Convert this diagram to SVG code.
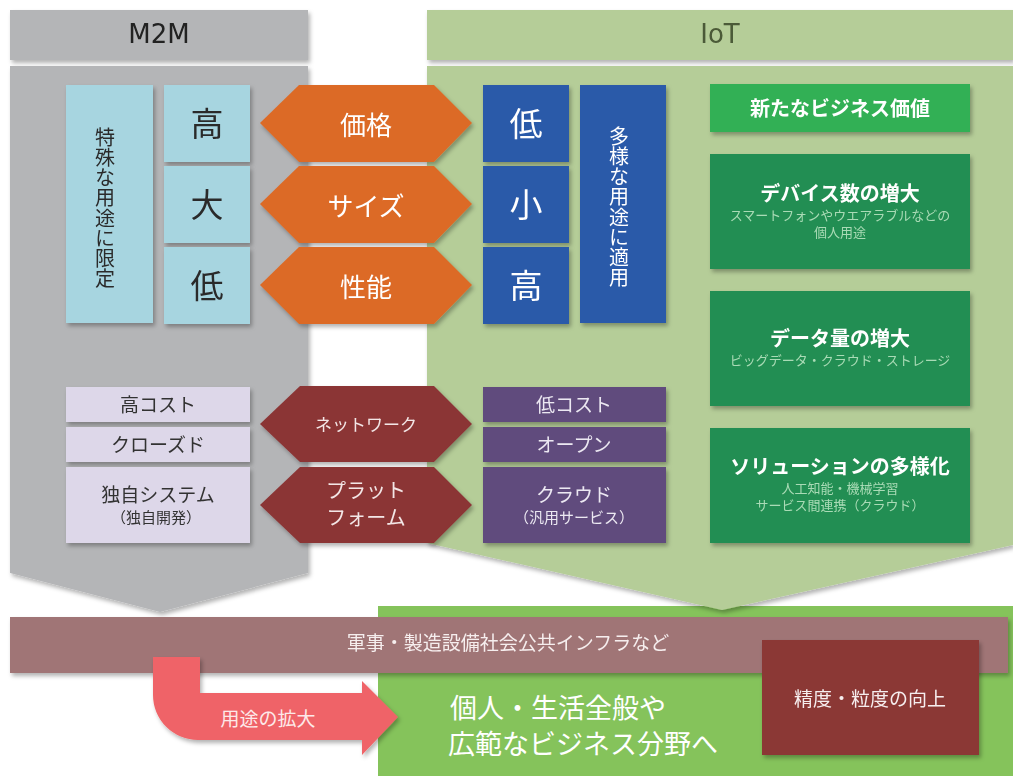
<svg xmlns="http://www.w3.org/2000/svg" width="1013" height="776" viewBox="0 0 1013 776">
<defs>
<filter id="sh" x="-10%" y="-10%" width="125%" height="130%">
<feDropShadow dx="2" dy="3" stdDeviation="2" flood-color="#000" flood-opacity="0.3"/>
</filter>
<style>
text{font-family:"Noto Sans CJK JP","Noto Sans",sans-serif;text-anchor:middle;dominant-baseline:central}
.lat{font-family:"DejaVu Sans","Noto Sans",sans-serif}
.vert{writing-mode:vertical-rl;text-orientation:upright;letter-spacing:0.2px}
.w{fill:#ffffff}
.dk{fill:#2b2b2b}
.gray{fill:#b4b5b7}
.pgreen{fill:#b5cd98}
.lblue{fill:#a7d5e0}
.orange{fill:#dc6a27}
.blue{fill:#2b5aa9}
.bgreen{fill:#33b055}
.dgreen{fill:#238e52}
.lav{fill:#ddd7e9}
.dred{fill:#8b3636}
.purple{fill:#604c7d}
.sub{fill:#a9dbb6;font-size:13px}
.title{fill:#ffffff;font-size:20px;font-weight:bold}
</style>
</defs>

<!-- bottom area -->
<g id="bottom-green">
<rect x="378" y="606" width="635" height="170" fill="#85c35b"/>
<text class="w" x="558" y="706" font-size="27">個人・生活全般や</text>
<text class="w" x="583" y="742" font-size="27">広範なビジネス分野へ</text>
</g>

<!-- M2M column -->
<g id="m2m-header" filter="url(#sh)">
<rect class="gray" x="10" y="10" width="298" height="50"/>
<text class="lat" x="159" y="34" font-size="26" fill="#222">M2M</text>
</g>
<g id="m2m-body">
<polygon class="gray" points="10,66 308,66 308,573 160,612 10,573" filter="url(#sh)"/>
</g>

<!-- IoT column -->
<g id="iot-header" filter="url(#sh)">
<rect class="pgreen" x="427" y="10" width="586" height="50"/>
<text class="lat" x="720" y="34" font-size="26" fill="#4b5a37">IoT</text>
</g>
<g id="iot-body">
<polygon class="pgreen" points="427,66 1013,66 1013,545 722,610 427,543" filter="url(#sh)"/>
</g>

<!-- M2M nodes -->
<g id="m2m-special" filter="url(#sh)">
<rect class="lblue" x="66" y="85" width="87" height="238"/>
<text class="dk vert" x="105" y="208" font-size="20">特殊な用途に限定</text>
</g>
<g id="m2m-high" filter="url(#sh)">
<rect class="lblue" x="164" y="85" width="86" height="77"/>
<text class="dk" x="207" y="122" font-size="33">高</text>
</g>
<g id="m2m-large" filter="url(#sh)">
<rect class="lblue" x="164" y="166" width="86" height="77"/>
<text class="dk" x="207" y="203" font-size="33">大</text>
</g>
<g id="m2m-low" filter="url(#sh)">
<rect class="lblue" x="164" y="247" width="86" height="77"/>
<text class="dk" x="207" y="284" font-size="33">低</text>
</g>

<!-- orange hexagons -->
<g id="hex-price" filter="url(#sh)">
<polygon class="orange" points="260,123 299,85 434,85 472,123 434,162 299,162"/>
<text class="w" x="366" y="123" font-size="26">価格</text>
</g>
<g id="hex-size" filter="url(#sh)">
<polygon class="orange" points="260,204 299,166 434,166 472,204 434,243 299,243"/>
<text class="w" x="366" y="204" font-size="26">サイズ</text>
</g>
<g id="hex-perf" filter="url(#sh)">
<polygon class="orange" points="260,285 299,247 434,247 472,285 434,324 299,324"/>
<text class="w" x="366" y="285" font-size="26">性能</text>
</g>

<!-- IoT blue nodes -->
<g id="iot-low" filter="url(#sh)">
<rect class="blue" x="483" y="85" width="86" height="77"/>
<text class="w" x="526" y="122" font-size="33">低</text>
</g>
<g id="iot-small" filter="url(#sh)">
<rect class="blue" x="483" y="166" width="86" height="77"/>
<text class="w" x="526" y="203" font-size="33">小</text>
</g>
<g id="iot-high" filter="url(#sh)">
<rect class="blue" x="483" y="247" width="86" height="77"/>
<text class="w" x="526" y="284" font-size="33">高</text>
</g>
<g id="iot-various" filter="url(#sh)">
<rect class="blue" x="580" y="85" width="86" height="238"/>
<text class="w vert" x="619" y="207" font-size="20">多様な用途に適用</text>
</g>

<!-- IoT green value boxes -->
<g id="new-value" filter="url(#sh)">
<rect class="bgreen" x="710" y="84" width="260" height="48"/>
<text class="title" x="840" y="107">新たなビジネス価値</text>
</g>
<g id="devices" filter="url(#sh)">
<rect class="dgreen" x="710" y="154" width="260" height="115"/>
<text class="title" x="840" y="192">デバイス数の増大</text>
<text class="sub" x="840" y="214">スマートフォンやウエアラブルなどの</text>
<text class="sub" x="840" y="231">個人用途</text>
</g>
<g id="data" filter="url(#sh)">
<rect class="dgreen" x="710" y="291" width="260" height="115"/>
<text class="title" x="840" y="337">データ量の増大</text>
<text class="sub" x="840" y="359">ビッグデータ・クラウド・ストレージ</text>
</g>
<g id="solutions" filter="url(#sh)">
<rect class="dgreen" x="710" y="428" width="260" height="115"/>
<text class="title" x="840" y="465">ソリューションの多様化</text>
<text class="sub" x="840" y="487">人工知能・機械学習</text>
<text class="sub" x="840" y="504">サービス間連携（クラウド）</text>
</g>

<!-- M2M lavender boxes -->
<g id="m2m-cost" filter="url(#sh)">
<rect class="lav" x="66" y="387" width="184" height="35"/>
<text x="158" y="403" font-size="19" fill="#333">高コスト</text>
</g>
<g id="m2m-closed" filter="url(#sh)">
<rect class="lav" x="66" y="427" width="184" height="35"/>
<text x="158" y="443" font-size="19" fill="#333">クローズド</text>
</g>
<g id="m2m-system" filter="url(#sh)">
<rect class="lav" x="66" y="467" width="184" height="76"/>
<text x="158" y="493" font-size="19" fill="#333">独自システム</text>
<text x="156" y="516" font-size="15" fill="#333">（独自開発）</text>
</g>

<!-- dark red hexagons -->
<g id="hex-network" filter="url(#sh)">
<polygon class="dred" points="260,424 300,386 434,386 472,424 434,462 300,462"/>
<text x="366" y="423" font-size="17" fill="#f3e6e6">ネットワーク</text>
</g>
<g id="hex-platform" filter="url(#sh)">
<polygon class="dred" points="260,505 300,467 434,467 472,505 434,543 300,543"/>
<text x="366" y="489" font-size="20" fill="#f3e6e6">プラット</text>
<text x="366" y="516" font-size="20" fill="#f3e6e6">フォーム</text>
</g>

<!-- IoT purple boxes -->
<g id="iot-cost" filter="url(#sh)">
<rect class="purple" x="483" y="387" width="183" height="35"/>
<text x="574" y="403" font-size="19" fill="#ece8f2">低コスト</text>
</g>
<g id="iot-open" filter="url(#sh)">
<rect class="purple" x="483" y="427" width="183" height="35"/>
<text x="574" y="443" font-size="19" fill="#ece8f2">オープン</text>
</g>
<g id="iot-cloud" filter="url(#sh)">
<rect class="purple" x="483" y="467" width="183" height="76"/>
<text x="574" y="493" font-size="19" fill="#ece8f2">クラウド</text>
<text x="574" y="516" font-size="15" fill="#ece8f2">（汎用サービス）</text>
</g>

<!-- mauve bar -->
<g id="infra-bar" filter="url(#sh)">
<rect x="10" y="617" width="998" height="56" fill="#a07576"/>
<text x="508" y="641" font-size="19" fill="#f6eeee">軍事・製造設備社会公共インフラなど</text>
</g>

<!-- precision box -->
<g id="precision" filter="url(#sh)">
<rect x="762" y="640" width="217" height="115" fill="#8b3736"/>
<text x="870" y="697" font-size="19" fill="#f6eeee">精度・粒度の向上</text>
</g>

<!-- connector: expansion arrow -->
<g id="connectors">
<path d="M153,657 L153,695 A45,45 0 0 0 198,740 L362,740 L362,755 L398,717 L362,681 L362,693 L200,693 L200,657 Z" fill="#ef6467" filter="url(#sh)"/>
<text x="268" y="717" font-size="19" fill="#fde9e9">用途の拡大</text>
</g>
</svg>
